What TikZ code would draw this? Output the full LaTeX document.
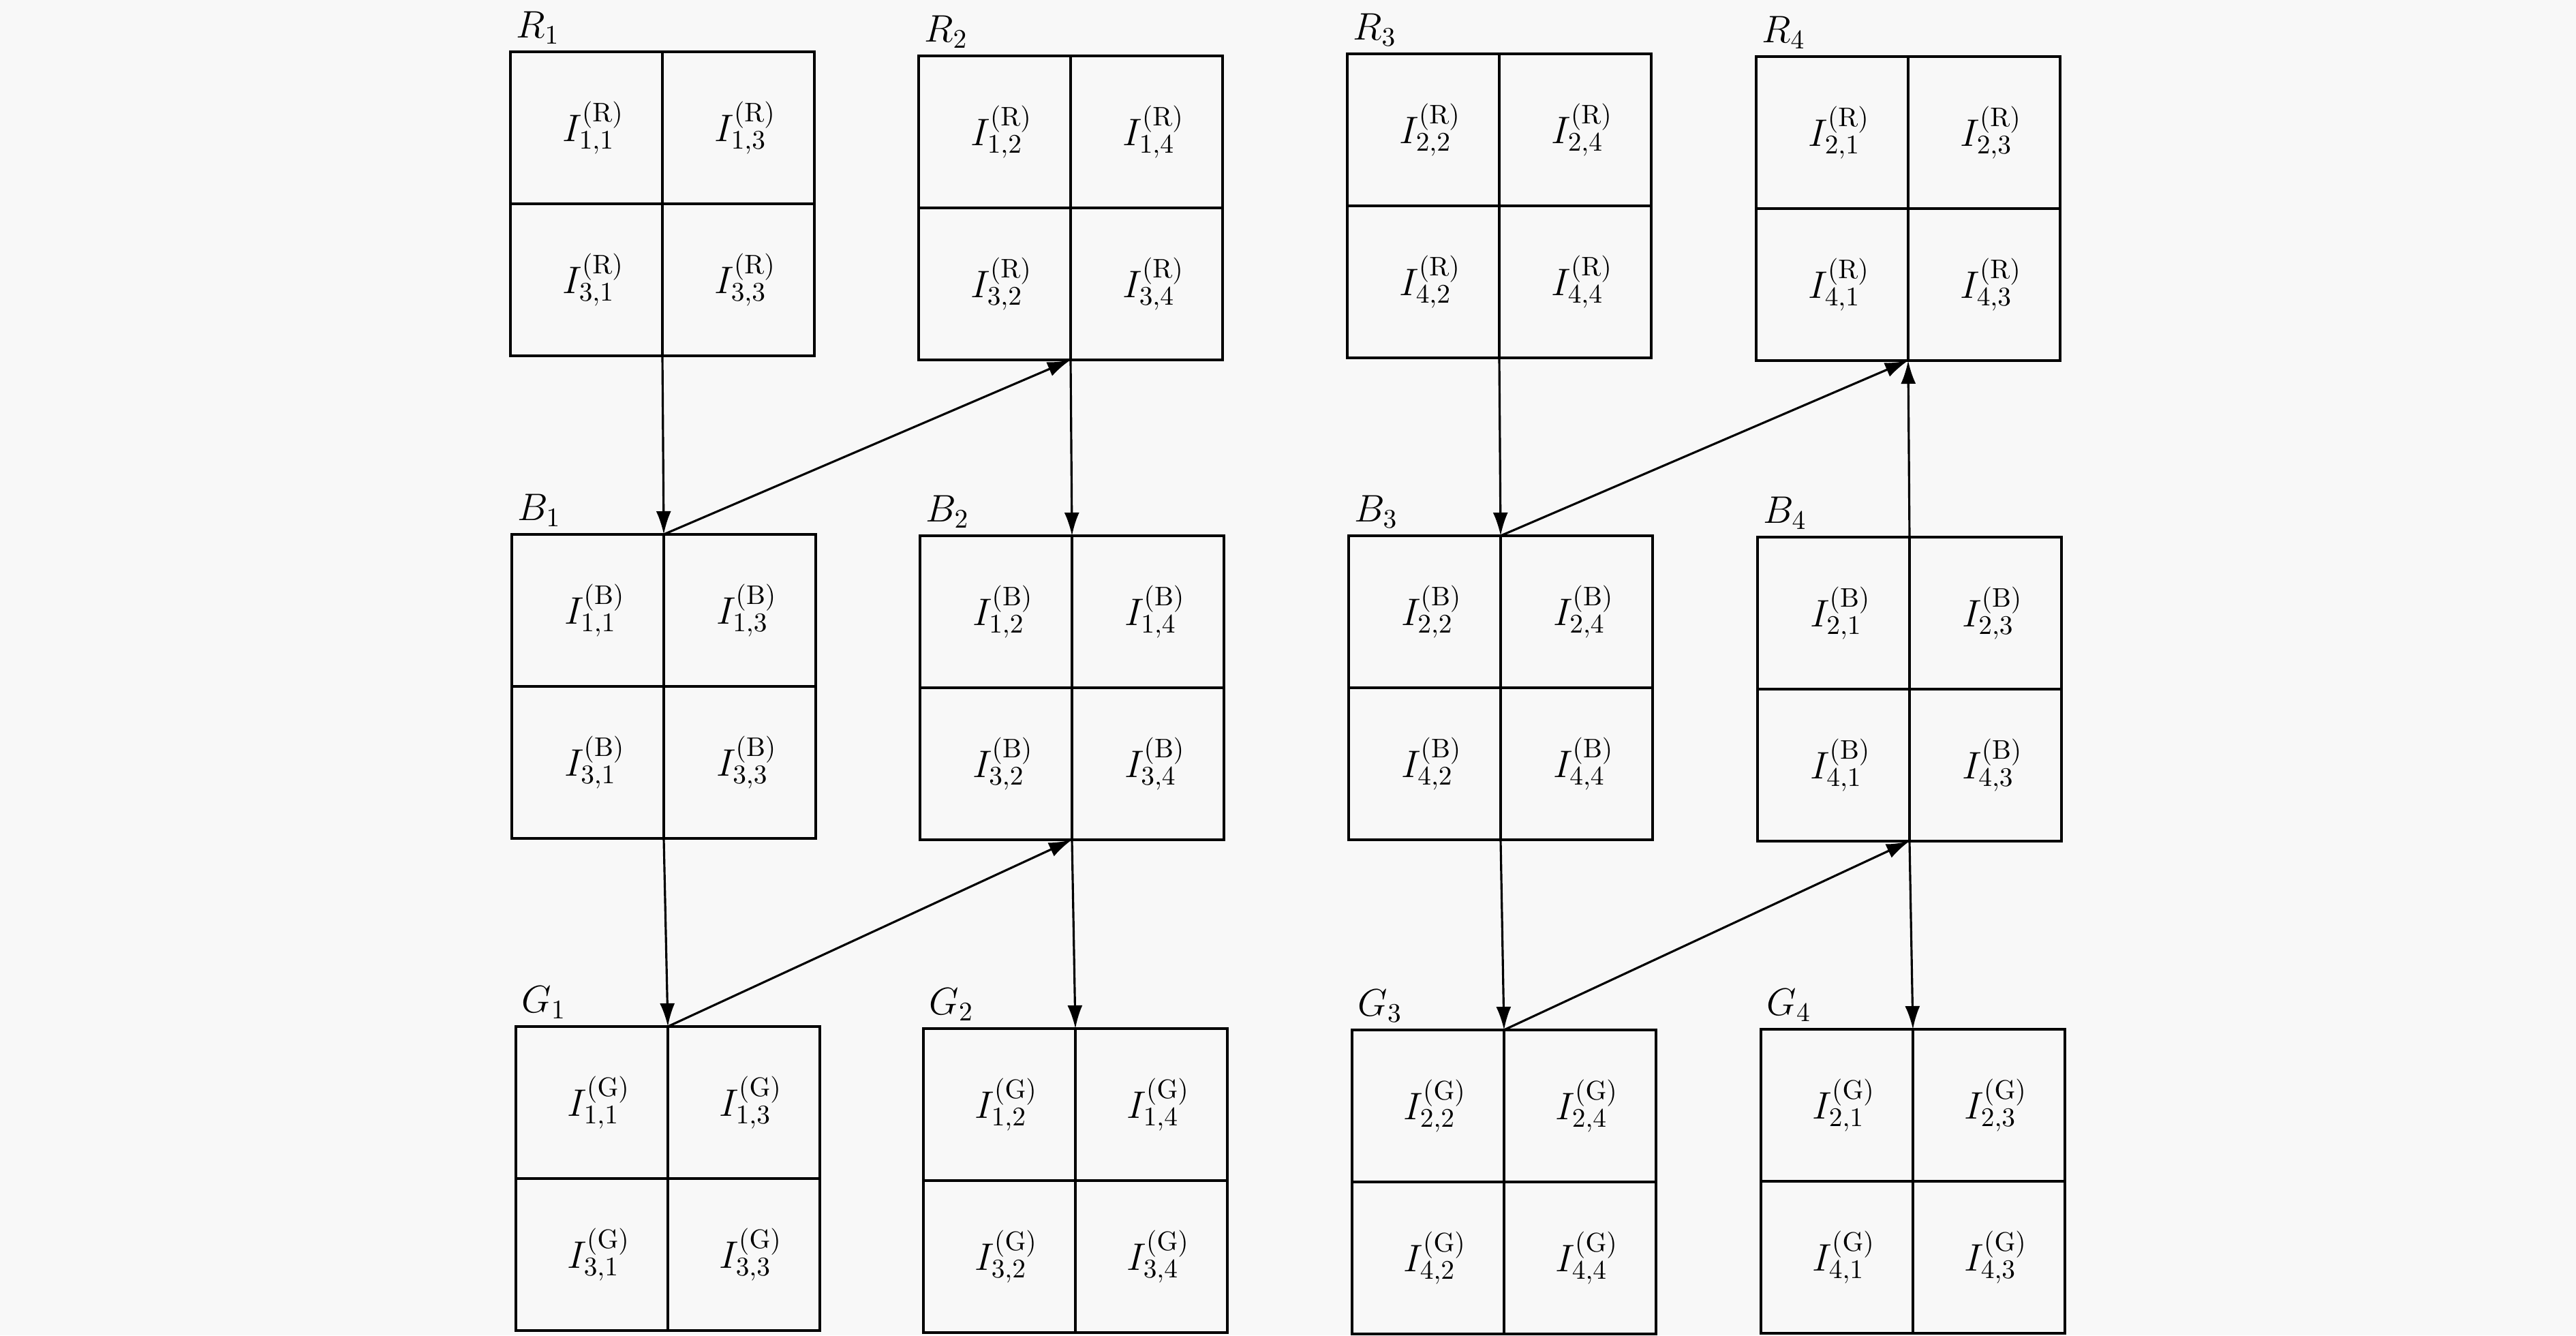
\RequirePackage{fix-cm}
\documentclass[tikz,border=0pt]{standalone}
\usetikzlibrary{arrows.meta}
\definecolor{bgcol}{RGB}{248,248,248}
\tikzset{
  qb/.style={draw, line width=1.05pt, minimum width=4.46cm, minimum height=4.46cm, inner sep=0pt, outer sep=0pt},
  cellline/.style={line width=1.05pt},
  cell/.style={inner sep=0pt, xshift=0.1cm},
  lbl/.style={anchor=south west, inner sep=0pt, xshift=0.08cm, yshift=0.11cm},
  arr/.style={line width=0.9pt, -{Latex[length=3.4mm,width=2.2mm]}},
}
\newcommand{\qbox}[8]{%
  \node[qb] (#1) at (#2) {};
  \draw[cellline] (#1.north) -- (#1.south) (#1.west) -- (#1.east);
  \node[cell] (#1-a) at ([shift={(-1.115,1.115)}]#1.center) {$I_{#5}^{(\mathrm{#3})}$};
  \node[cell] (#1-b) at ([shift={(1.115,1.115)}]#1.center) {$I_{#6}^{(\mathrm{#3})}$};
  \node[cell] (#1-c) at ([shift={(-1.115,-1.115)}]#1.center) {$I_{#7}^{(\mathrm{#3})}$};
  \node[cell] (#1-d) at ([shift={(1.115,-1.115)}]#1.center) {$I_{#8}^{(\mathrm{#3})}$};
  \node[lbl] (#1-l) at (#1.north west) {$#4$};
}
\begin{document}
\begin{tikzpicture}[font=\fontsize{16}{19}\selectfont]
\fill[bgcol] (0,0) rectangle (37.8,19.59);
\useasboundingbox (0,0) rectangle (37.8,19.59);
% R row
\qbox{R1}{9.72,16.60}{R}{R_1}{1,1}{1,3}{3,1}{3,3}
\qbox{R2}{15.71,16.54}{R}{R_2}{1,2}{1,4}{3,2}{3,4}
\qbox{R3}{22.00,16.57}{R}{R_3}{2,2}{2,4}{4,2}{4,4}
\qbox{R4}{28.00,16.53}{R}{R_4}{2,1}{2,3}{4,1}{4,3}
% B row
\qbox{B1}{9.74,9.52}{B}{B_1}{1,1}{1,3}{3,1}{3,3}
\qbox{B2}{15.73,9.50}{B}{B_2}{1,2}{1,4}{3,2}{3,4}
\qbox{B3}{22.02,9.50}{B}{B_3}{2,2}{2,4}{4,2}{4,4}
\qbox{B4}{28.02,9.48}{B}{B_4}{2,1}{2,3}{4,1}{4,3}
% G row
\qbox{G1}{9.80,2.30}{G}{G_1}{1,1}{1,3}{3,1}{3,3}
\qbox{G2}{15.78,2.27}{G}{G_2}{1,2}{1,4}{3,2}{3,4}
\qbox{G3}{22.07,2.25}{G}{G_3}{2,2}{2,4}{4,2}{4,4}
\qbox{G4}{28.07,2.26}{G}{G_4}{2,1}{2,3}{4,1}{4,3}
% arrows
\draw[arr] (R1.south) -- (B1.north);
\draw[arr] (B1.north) -- (R2.south);
\draw[arr] (R2.south) -- (B2.north);
\draw[arr] (B1.south) -- (G1.north);
\draw[arr] (G1.north) -- (B2.south);
\draw[arr] (B2.south) -- (G2.north);
\draw[arr] (R3.south) -- (B3.north);
\draw[arr] (B3.north) -- (R4.south);
\draw[arr] (B4.north) -- (R4.south);
\draw[arr] (B3.south) -- (G3.north);
\draw[arr] (G3.north) -- (B4.south);
\draw[arr] (B4.south) -- (G4.north);
\end{tikzpicture}
\end{document}
